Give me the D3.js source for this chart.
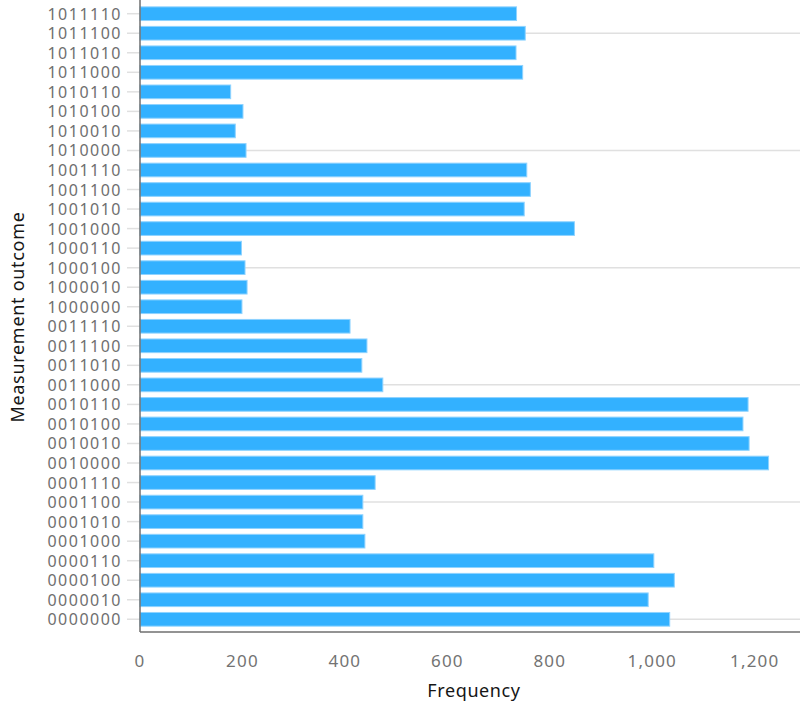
<!doctype html>
<html lang="en">
<head>
  <meta charset="utf-8">
  <title>Measurement outcome - D3</title>
  <style>
    body { margin: 0; background: #fff; }
    text { font-family: "Noto Sans", sans-serif; }
  </style>
</head>
<body>
  <svg></svg>
  <script src="https://cdn.jsdelivr.net/npm/d3@7"></script>
  <script>
    const outcomes = [
      '0000000', '0000010', '0000100', '0000110', '0001000', '0001010', '0001100', '0001110',
      '0010000', '0010010', '0010100', '0010110', '0011000', '0011010', '0011100', '0011110',
      '1000000', '1000010', '1000100', '1000110', '1001000', '1001010', '1001100', '1001110',
      '1010000', '1010010', '1010100', '1010110', '1011000', '1011010', '1011100', '1011110'
    ];
    const counts = [
      1034, 992, 1043, 1003, 439, 435, 435, 459,
      1227, 1189, 1177, 1187, 474, 433, 443, 410,
      199, 209, 205, 198, 848, 750, 762, 755,
      207, 186, 201, 177, 747, 734, 752, 735
    ];
    const xTicks = [0, 200, 400, 600, 800, 1000, 1200];

    const width = 800;
    const height = 704;
    const margin = { top: 1, right: 0, bottom: 72, left: 140 };
    const plotBottom = height - margin.bottom; // 632

    const svg = d3.select('svg')
      .attr('width', width)
      .attr('height', height);

    const data = outcomes.map((d, i) => ({ key: d, value: counts[i], idx: i }));

    const x = d3.scaleLinear()
      .domain([0, d3.max(counts) * 1.05])
      .range([margin.left, width - margin.right]);

    // top row is the last outcome
    const y = d3.scaleBand()
      .domain(outcomes.slice().reverse())
      .range([margin.top, plotBottom])
      .padding(0.3);

    // grid lines every 6th row, short ticks for the rest
    const grid = svg.append('g');
    data.forEach(d => {
      const cy = y(d.key) + y.bandwidth() / 2;
      grid.append('line')
        .attr('x1', margin.left - 13)
        .attr('x2', d.idx % 6 === 0 ? width : margin.left)
        .attr('y1', cy)
        .attr('y2', cy)
        .attr('stroke', '#e0e0e0')
        .attr('stroke-width', 1.5);
    });

    // bars
    svg.append('g')
      .selectAll('rect')
      .data(data)
      .join('rect')
      .attr('x', x(0))
      .attr('y', d => y(d.key))
      .attr('width', d => x(d.value) - x(0))
      .attr('height', y.bandwidth())
      .attr('fill', '#33b1ff')
      .attr('stroke', '#8fd3ff')
      .attr('stroke-width', 1);

    // y labels
    svg.append('g')
      .selectAll('text')
      .data(data)
      .join('text')
      .attr('x', margin.left - 18)
      .attr('y', d => y(d.key) + y.bandwidth() / 2)
      .attr('text-anchor', 'end')
      .attr('dominant-baseline', 'central')
      .attr('font-size', 16)
      .attr('letter-spacing', 1.5)
      .attr('fill', '#6f6f6f')
      .text(d => d.key);

    // x labels
    svg.append('g')
      .selectAll('text')
      .data(xTicks)
      .join('text')
      .attr('x', d => x(d))
      .attr('y', 660)
      .attr('text-anchor', 'middle')
      .attr('dominant-baseline', 'central')
      .attr('font-size', 17)
      .attr('letter-spacing', 1.2)
      .attr('fill', '#737373')
      .text(d => d3.format(',')(d));

    // axis lines
    svg.append('line')
      .attr('x1', margin.left).attr('x2', margin.left)
      .attr('y1', 0).attr('y2', plotBottom)
      .attr('stroke', '#6f6f6f').attr('stroke-width', 1.5);
    svg.append('line')
      .attr('x1', margin.left).attr('x2', width)
      .attr('y1', plotBottom).attr('y2', plotBottom)
      .attr('stroke', '#6f6f6f').attr('stroke-width', 1.5);

    // axis titles
    svg.append('text')
      .attr('x', (margin.left + width) / 2 + 4)
      .attr('y', 690)
      .attr('text-anchor', 'middle')
      .attr('dominant-baseline', 'central')
      .attr('font-size', 18)
      .attr('letter-spacing', 0.6)
      .attr('fill', '#161616')
      .text('Frequency');

    svg.append('text')
      .attr('transform', 'translate(17,' + (plotBottom / 2 + 1) + ') rotate(-90)')
      .attr('text-anchor', 'middle')
      .attr('dominant-baseline', 'central')
      .attr('font-size', 18)
      .attr('letter-spacing', 0.7)
      .attr('fill', '#161616')
      .text('Measurement outcome');
  </script>
</body>
</html>
